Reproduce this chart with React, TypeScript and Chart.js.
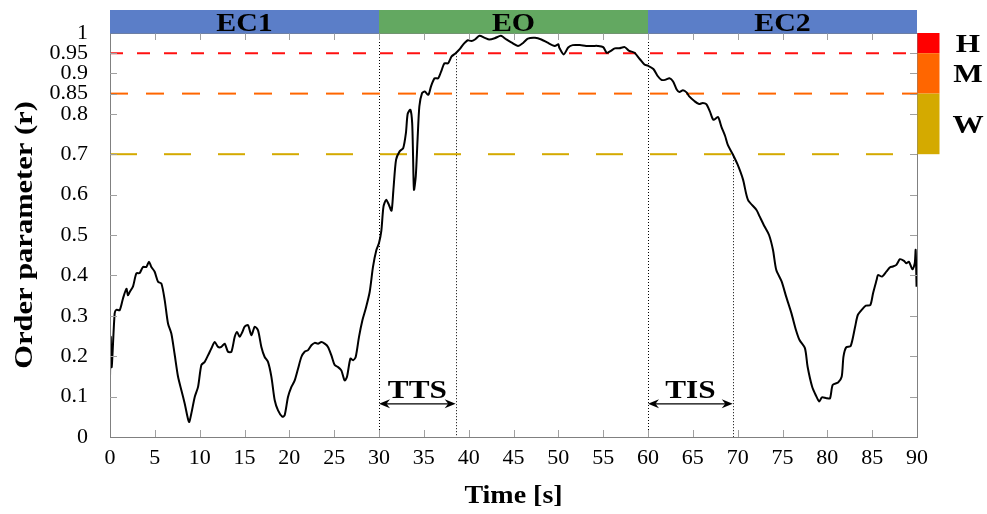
import React, { useEffect, useRef } from 'react';
import { Chart, registerables } from 'chart.js';

Chart.register(...registerables);

// ---- data ----
const ec1Time = [0, 0.08, 0.19, 0.52, 0.71, 1.08, 1.45, 1.83, 2.0, 2.2, 2.57, 2.94, 3.31, 3.68, 4.06, 4.35, 4.61, 4.98, 5.36, 5.73, 6.1, 6.47, 6.84, 7.2, 7.59, 7.96, 8.33, 8.81, 9.07, 9.45, 9.82, 10.19, 10.56, 10.93, 11.3, 11.68, 12.05, 12.42, 12.79, 13.16, 13.54, 13.91, 14.17, 14.46, 14.76, 15.02, 15.39, 15.77, 16.14, 16.51, 16.88, 17.25, 17.62, 18.0, 18.37, 18.74, 19.22, 19.48, 19.85, 20.23, 20.6, 20.97, 21.34, 21.71, 22.09, 22.46, 22.83, 23.2, 23.57, 23.94, 24.31, 24.69, 25.06, 25.43, 25.8, 26.17, 26.43, 26.81, 27.1, 27.4, 27.77, 28.15, 28.52, 28.96, 29.33, 29.7];
const ec1R = [0.149, 0.248, 0.173, 0.306, 0.315, 0.314, 0.343, 0.367, 0.351, 0.359, 0.373, 0.405, 0.406, 0.421, 0.421, 0.434, 0.421, 0.409, 0.384, 0.38, 0.339, 0.281, 0.256, 0.206, 0.149, 0.116, 0.083, 0.037, 0.058, 0.099, 0.124, 0.178, 0.186, 0.202, 0.219, 0.235, 0.223, 0.223, 0.231, 0.211, 0.211, 0.248, 0.26, 0.248, 0.26, 0.273, 0.277, 0.252, 0.273, 0.264, 0.223, 0.198, 0.186, 0.149, 0.091, 0.066, 0.05, 0.054, 0.099, 0.124, 0.14, 0.169, 0.198, 0.211, 0.215, 0.227, 0.233, 0.231, 0.235, 0.231, 0.223, 0.202, 0.178, 0.173, 0.165, 0.14, 0.149, 0.194, 0.19, 0.198, 0.248, 0.289, 0.318, 0.359, 0.421, 0.462];

const eoTime = [30.0, 30.26, 30.5, 30.8, 31.1, 31.4, 31.6, 31.9, 32.3, 32.7, 33.0, 33.2, 33.5, 33.7, 33.8, 33.9, 34.1, 34.3, 34.5, 34.8, 35.1, 35.5, 35.8, 36.2, 36.6, 37.0, 37.3, 37.7, 38.1, 38.55, 39.0, 39.4, 39.9, 40.3, 40.7, 41.2, 41.8, 42.3, 42.9, 43.6, 44.2, 44.8, 45.5, 46.1, 46.6, 47.4, 48.1, 48.8, 49.6, 50.0, 50.1, 50.6, 51.1, 51.6, 52.4, 53.1, 53.9, 54.4, 55.0, 55.4, 55.8, 56.3, 56.8, 57.4, 57.9, 58.5, 59.1, 59.6];
const eoR = [0.48, 0.51, 0.57, 0.587, 0.575, 0.56, 0.61, 0.686, 0.707, 0.715, 0.752, 0.8, 0.81, 0.777, 0.694, 0.612, 0.645, 0.736, 0.818, 0.851, 0.855, 0.847, 0.868, 0.888, 0.888, 0.909, 0.925, 0.925, 0.942, 0.95, 0.96, 0.972, 0.982, 0.98, 0.984, 0.993, 0.988, 0.984, 0.987, 0.993, 0.984, 0.976, 0.968, 0.976, 0.986, 0.988, 0.984, 0.976, 0.968, 0.972, 0.964, 0.947, 0.964, 0.97, 0.97, 0.968, 0.968, 0.968, 0.965, 0.951, 0.955, 0.962, 0.962, 0.965, 0.956, 0.951, 0.935, 0.922];

const ec2Time = [60.0, 60.6, 61.1, 61.5, 61.9, 62.4, 62.8, 63.2, 63.5, 63.9, 64.3, 64.6, 65.2, 65.7, 66.1, 66.5, 66.9, 67.3, 67.8, 68.2, 68.6, 68.9, 69.45, 70.0, 70.6, 71.15, 72.1, 72.45, 73.0, 73.5, 73.94, 74.3, 74.9, 75.4, 76.0, 76.5, 76.9, 77.5, 77.8, 78.3, 78.7, 79.1, 79.4, 79.9, 80.3, 80.6, 81.2, 81.6, 81.8, 82.1, 82.6, 83.1, 83.4, 84.0, 84.3, 84.8, 85.1, 85.5, 85.65, 86.1, 86.6, 87.0, 87.3, 87.7, 88.1, 88.55, 88.8, 89.1, 89.5, 89.75, 89.85, 89.95];
const ec2R = [0.919, 0.911, 0.893, 0.884, 0.884, 0.888, 0.88, 0.86, 0.854, 0.858, 0.853, 0.843, 0.831, 0.824, 0.827, 0.824, 0.806, 0.785, 0.792, 0.767, 0.745, 0.723, 0.7, 0.674, 0.637, 0.587, 0.562, 0.546, 0.521, 0.5, 0.463, 0.414, 0.385, 0.348, 0.306, 0.265, 0.24, 0.22, 0.174, 0.125, 0.104, 0.088, 0.098, 0.096, 0.096, 0.129, 0.135, 0.149, 0.199, 0.222, 0.225, 0.273, 0.302, 0.319, 0.325, 0.327, 0.356, 0.389, 0.401, 0.397, 0.41, 0.42, 0.422, 0.426, 0.44, 0.436, 0.43, 0.434, 0.415, 0.43, 0.463, 0.372];

const yTickValues = [0, 0.1, 0.2, 0.3, 0.4, 0.5, 0.6, 0.7, 0.8, 0.85, 0.9, 0.95, 1];
const xMin = 0;
const xMax = 90;
const xStep = 5;

const phaseNames = ['EC1', 'EO', 'EC2'];
const phaseBounds = [0, 30, 60, 90];
const phaseColors = ['#5b7ec8', '#63a861', '#5b7ec8'];

const levelNames = ['H', 'M', 'W'];
const levelBounds = [1, 0.95, 0.85, 0.7];
const levelColors = ['#ff0000', '#ff6600', '#d4aa00'];

const thresholdValues = [0.95, 0.85, 0.7];
const thresholdColors = ['#ff1010', '#ff6600', '#d4aa00'];
const thresholdDashes = [[13, 14], [18, 18], [27, 27]];

const ttsStart = 30;
const ttsEnd = 38.55;
const tisStart = 60;
const tisEnd = 69.45;
const arrowLevel = 0.082;

const xTitle = 'Time [s]';
const yTitle = 'Order parameter (r)';

const SERIF = '"Liberation Serif", "Times New Roman", serif';

function drawStretched(ctx: CanvasRenderingContext2D, text: string, x: number, y: number, sx: number, rotate = 0) {
  ctx.save();
  ctx.translate(x, y);
  if (rotate) ctx.rotate(rotate);
  ctx.scale(sx, 1);
  ctx.textAlign = 'center';
  ctx.textBaseline = 'alphabetic';
  ctx.fillText(text, 0, 0);
  ctx.restore();
}

function arrowHead(ctx: CanvasRenderingContext2D, x: number, y: number, dir: number) {
  ctx.beginPath();
  ctx.moveTo(x, y);
  ctx.lineTo(x - dir * 11, y - 4.5);
  ctx.lineTo(x - dir * 7.5, y);
  ctx.lineTo(x - dir * 11, y + 4.5);
  ctx.closePath();
  ctx.fill();
}

const overlay = {
  id: 'overlay',
  beforeDatasetsDraw(chart: any) {
    const { ctx, chartArea } = chart;
    const xs = chart.scales.x;
    const ys = chart.scales.y;
    ctx.save();
    ctx.strokeStyle = '#000';
    ctx.lineWidth = 1;
    ctx.setLineDash([1, 2]);
    const vlines: [number, number][] = [
      [ttsStart, 1],
      [ttsEnd, thresholdValues[0]],
      [tisStart, 1],
      [tisEnd, thresholdValues[2]],
    ];
    for (const [t, top] of vlines) {
      const px = Math.round(xs.getPixelForValue(t)) + 0.5;
      ctx.beginPath();
      ctx.moveTo(px, ys.getPixelForValue(top));
      ctx.lineTo(px, chartArea.bottom);
      ctx.stroke();
    }
    ctx.restore();
  },
  afterDatasetsDraw(chart: any) {
    const { ctx, chartArea } = chart;
    const xs = chart.scales.x;
    const ys = chart.scales.y;
    const { left, right, top, bottom } = chartArea;
    ctx.save();

    // frame
    ctx.strokeStyle = '#808080';
    ctx.lineWidth = 1;
    ctx.setLineDash([]);
    ctx.strokeRect(left + 0.5, top + 0.5, right - left, bottom - top);

    // inward ticks
    ctx.strokeStyle = '#a0a0a0';
    ctx.beginPath();
    for (let v = xMin + xStep; v < xMax; v += xStep) {
      const px = Math.round(xs.getPixelForValue(v)) + 0.5;
      ctx.moveTo(px, bottom);
      ctx.lineTo(px, bottom - 7);
      ctx.moveTo(px, top);
      ctx.lineTo(px, top + 7);
    }
    for (const v of yTickValues) {
      if (v === 0 || v === 1) continue;
      const py = Math.round(ys.getPixelForValue(v)) + 0.5;
      ctx.moveTo(left, py);
      ctx.lineTo(left + 7, py);
      ctx.moveTo(right, py);
      ctx.lineTo(right - 7, py);
    }
    ctx.stroke();

    // top phase band
    const bandH = 23;
    for (let i = 0; i < phaseNames.length; i++) {
      const x0 = xs.getPixelForValue(phaseBounds[i]);
      const x1 = xs.getPixelForValue(phaseBounds[i + 1]);
      ctx.fillStyle = phaseColors[i];
      ctx.fillRect(x0, top - bandH, x1 - x0, bandH + 0.5);
      ctx.fillStyle = '#000';
      ctx.font = `bold 26px ${SERIF}`;
      drawStretched(ctx, phaseNames[i], (x0 + x1) / 2, top - 2, 1.15);
    }

    // right level band
    const lw = 22;
    for (let i = 0; i < levelNames.length; i++) {
      const y0 = ys.getPixelForValue(levelBounds[i]);
      const y1 = ys.getPixelForValue(levelBounds[i + 1]);
      ctx.fillStyle = levelColors[i];
      ctx.fillRect(right + 0.5, y0, lw, y1 - y0);
      ctx.fillStyle = '#000';
      ctx.font = `bold 26px ${SERIF}`;
      drawStretched(ctx, levelNames[i], right + 51, (y0 + y1) / 2 + 9, 1.2);
    }

    // arrows
    ctx.fillStyle = '#000';
    ctx.strokeStyle = '#000';
    ctx.lineWidth = 1.4;
    const ay = ys.getPixelForValue(arrowLevel);
    const arrows: [number, number, string][] = [
      [ttsStart, ttsEnd, 'TTS'],
      [tisStart, tisEnd, 'TIS'],
    ];
    for (const [a, b, label] of arrows) {
      const xa = xs.getPixelForValue(a);
      const xb = xs.getPixelForValue(b);
      ctx.beginPath();
      ctx.moveTo(xa + 4, ay);
      ctx.lineTo(xb - 4, ay);
      ctx.stroke();
      arrowHead(ctx, xa, ay, -1);
      arrowHead(ctx, xb, ay, 1);
      ctx.font = `bold 26px ${SERIF}`;
      drawStretched(ctx, label, (xa + xb) / 2, ay - 6, 1.2);
    }

    // axis titles
    ctx.font = `bold 25px ${SERIF}`;
    drawStretched(ctx, xTitle, (left + right) / 2, 503, 1.12);
    drawStretched(ctx, yTitle, 32, (top + bottom) / 2, 1.22, -Math.PI / 2);

    ctx.restore();
  },
};

export default function App() {
  const canvasRef = useRef<HTMLCanvasElement | null>(null);

  useEffect(() => {
    if (!canvasRef.current) return;
    const curve = [
      ...ec1Time.map((t, i) => ({ x: t, y: ec1R[i] })),
      ...eoTime.map((t, i) => ({ x: t, y: eoR[i] })),
      ...ec2Time.map((t, i) => ({ x: t, y: ec2R[i] })),
    ];
    const thresholdSets = thresholdValues.map((v, i) => ({
      data: [{ x: xMin, y: v }, { x: xMax, y: v }],
      borderColor: thresholdColors[i],
      borderWidth: 2,
      borderDash: thresholdDashes[i],
      pointRadius: 0,
      order: 1,
    }));
    const chart = new Chart(canvasRef.current, {
      type: 'line',
      data: {
        datasets: [
          {
            data: curve,
            borderColor: '#000',
            borderWidth: 2,
            pointRadius: 0,
            tension: 0.25,
            order: 0,
          } as any,
          ...(thresholdSets as any[]),
        ],
      },
      options: {
        animation: false,
        responsive: false,
        layout: { padding: { left: 0, right: 70, top: 33, bottom: 0 } },
        plugins: { legend: { display: false }, tooltip: { enabled: false } },
        scales: {
          x: {
            type: 'linear',
            min: xMin,
            max: xMax,
            grid: { display: false, drawTicks: false },
            border: { display: false },
            ticks: {
              stepSize: xStep,
              autoSkip: false,
              maxRotation: 0,
              padding: 8,
              color: '#000',
              font: { family: SERIF, size: 22 },
            },
            afterFit(s: any) {
              s.height = 77;
              s.paddingLeft = 0;
              s.paddingRight = 0;
            },
          },
          y: {
            type: 'linear',
            min: 0,
            max: 1,
            grid: { display: false, drawTicks: false },
            border: { display: false },
            afterBuildTicks(s: any) {
              s.ticks = yTickValues.map((v) => ({ value: v }));
            },
            ticks: {
              autoSkip: false,
              padding: 22,
              color: '#000',
              font: { family: SERIF, size: 22 },
              callback: (v: any) => String(v),
            },
            afterFit(s: any) {
              s.width = 110;
              s.paddingTop = 0;
              s.paddingBottom = 0;
            },
          },
        },
      } as any,
      plugins: [overlay],
    });
    return () => chart.destroy();
  }, []);

  return (
    <div style={{ position: 'absolute', left: 0, top: 0, width: 987, height: 514, background: '#fff' }}>
      <canvas ref={canvasRef} width={987} height={514} style={{ display: 'block' }} />
    </div>
  );
}
